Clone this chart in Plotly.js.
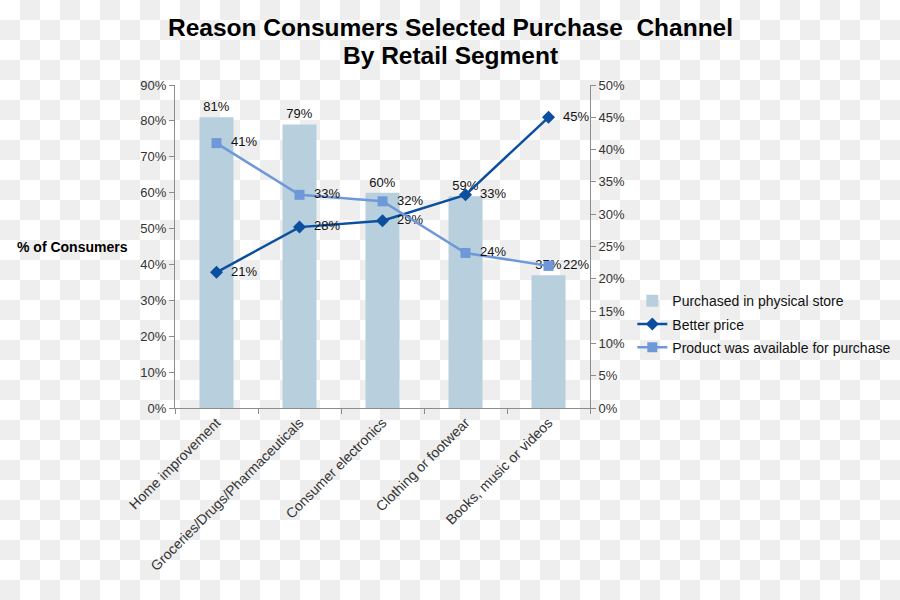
<!DOCTYPE html>
<html>
<head>
<meta charset="utf-8">
<script src="https://cdn.plot.ly/plotly-3.0.1.min.js"></script>
<style>
  html, body { margin: 0; padding: 0; }
  body {
    width: 900px; height: 600px;
    background: repeating-conic-gradient(#eeeeee 0% 25%, #ffffff 0% 50%) 0 0 / 40px 40px;
  }
  #chart { width: 900px; height: 600px; }
</style>
</head>
<body>
<div id="chart"></div>
<script>
const categories = ["Home improvement", "Groceries/Drugs/Pharmaceuticals", "Consumer electronics", "Clothing or footwear", "Books, music or videos"];
const physicalStore = [81, 79, 60, 59, 37];
const betterPrice = [21, 28, 29, 33, 45];
const productAvailable = [41, 33, 32, 24, 22];
const leftTicks = [0, 10, 20, 30, 40, 50, 60, 70, 80, 90];
const rightTicks = [0, 5, 10, 15, 20, 25, 30, 35, 40, 45, 50];

const pct = v => v + "%";
const FONT = "Liberation Sans, Arial, sans-serif";
const tickFont = {family: FONT, size: 13, color: "#333333"};
const labelFont = {family: FONT, size: 13, color: "#111111"};

const traces = [
  {
    type: "bar", name: "Purchased in physical store",
    x: categories, y: physicalStore,
    marker: {color: "#b8cfdd"},
    text: physicalStore.map(pct), textposition: "outside",
    textfont: labelFont, cliponaxis: false,
    legendgroup: "a", hoverinfo: "y"
  },
  {
    type: "scatter", mode: "lines+markers+text", name: "Better price",
    x: categories, y: betterPrice, yaxis: "y2",
    line: {color: "#0b4f9e", width: 2.5},
    marker: {symbol: "diamond", size: 10, color: "#0b4f9e"},
    text: betterPrice.map(v => "  " + pct(v)), textposition: "middle right",
    textfont: labelFont, cliponaxis: false,
    legendgroup: "b"
  },
  {
    type: "scatter", mode: "lines+markers+text", name: "Product was available for purchase",
    x: categories, y: productAvailable, yaxis: "y2",
    line: {color: "#6f98d8", width: 2.5},
    marker: {symbol: "square", size: 10, color: "#6f98d8"},
    text: productAvailable.map(v => "  " + pct(v)), textposition: "middle right",
    textfont: labelFont, cliponaxis: false,
    legendgroup: "c"
  }
];

const layout = {
  width: 900, height: 600,
  paper_bgcolor: "rgba(0,0,0,0)",
  plot_bgcolor: "rgba(0,0,0,0)",
  margin: {l: 175, r: 310, t: 85, b: 192, autoexpand: false},
  showlegend: true,
  bargap: 0.59,
  xaxis: {
    type: "category",
    tickangle: -45,
    tickfont: {family: FONT, size: 14, color: "#333333"},
    showline: true, linecolor: "#8c8c8c", linewidth: 1,
    ticks: "outside", tickson: "boundaries", ticklen: 5, tickcolor: "#8c8c8c",
    showgrid: false, zeroline: false
  },
  yaxis: {
    range: [0, 90],
    tickvals: leftTicks, ticktext: leftTicks.map(pct),
    tickfont: tickFont,
    showline: true, linecolor: "#8c8c8c", linewidth: 1,
    ticks: "outside", ticklen: 5, tickcolor: "#8c8c8c",
    showgrid: false, zeroline: false
  },
  yaxis2: {
    range: [0, 50], overlaying: "y", side: "right",
    tickvals: rightTicks, ticktext: rightTicks.map(pct),
    tickfont: tickFont,
    showline: true, linecolor: "#8c8c8c", linewidth: 1,
    ticks: "outside", ticklen: 5, tickcolor: "#8c8c8c",
    showgrid: false, zeroline: false
  },
  legend: {
    x: 1.102, xanchor: "left", y: 0.38, yanchor: "top",
    font: {family: FONT, size: 14, color: "#111111"},
    bgcolor: "rgba(0,0,0,0)",
    traceorder: "grouped", tracegroupgap: 2
  },
  annotations: [
    {
      text: "<b>Reason Consumers Selected Purchase  Channel</b>",
      xref: "paper", yref: "paper",
      x: 0.6627, y: 1.226, xanchor: "center", yanchor: "top",
      showarrow: false,
      font: {family: FONT, size: 24.5, color: "#000000"}
    },
    {
      text: "<b>By Retail Segment</b>",
      xref: "paper", yref: "paper",
      x: 0.6627, y: 1.139, xanchor: "center", yanchor: "top",
      showarrow: false,
      font: {family: FONT, size: 24.5, color: "#000000"}
    },
    {
      text: "<b>% of Consumers</b>",
      xref: "paper", yref: "paper",
      x: -0.108, y: 0.5, xanchor: "right", yanchor: "middle",
      showarrow: false,
      font: {family: FONT, size: 14, color: "#000000"}
    }
  ]
};

Plotly.newPlot("chart", traces, layout, {displayModeBar: false, staticPlot: true});
</script>
</body>
</html>
